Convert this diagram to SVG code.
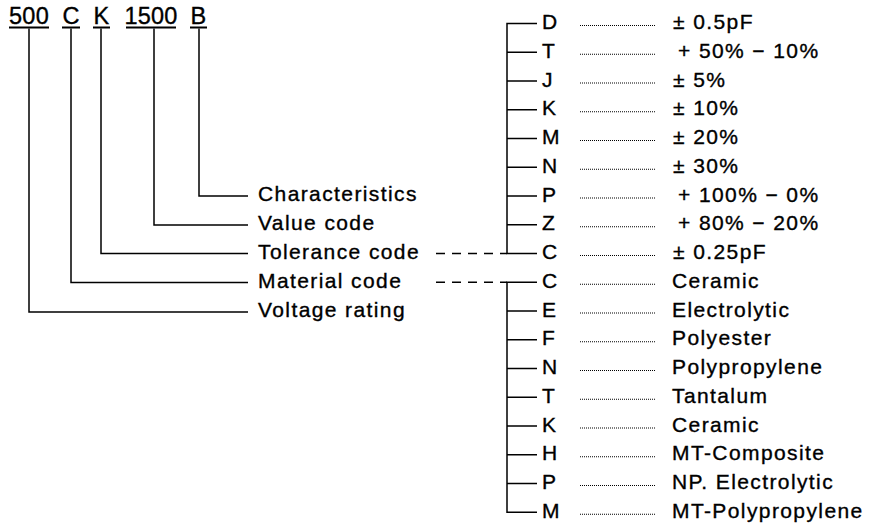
<svg xmlns="http://www.w3.org/2000/svg" width="879" height="528" viewBox="0 0 879 528">
<style>
  text { font-family: "Liberation Sans", Arial, Helvetica, sans-serif; fill: #000; stroke: #000; stroke-width: 0.35; }
  .code { font-size: 23.5px; letter-spacing: 0.2px; text-anchor: middle; }
  .t { font-size: 21px; letter-spacing: 1.4px; }
  .ln { fill: none; stroke: #000; stroke-width: 1.5; }
  .ul { fill: none; stroke: #000; stroke-width: 2; }
  .dash { fill: none; stroke: #000; stroke-width: 1.6; stroke-dasharray: 9 7; }
  .dots { fill: none; stroke: #000; stroke-width: 1.1; stroke-dasharray: 1 1; }
</style>
<rect width="879" height="528" fill="#fff"/>

<g id="code">
  <text class="code" x="29" y="24">500</text>
  <text class="code" x="71" y="24">C</text>
  <text class="code" x="101.5" y="24">K</text>
  <text class="code" x="151" y="24">1500</text>
  <text class="code" x="198.5" y="24">B</text>
  <path class="ul" d="M9 27.5H49M62 27.5H80M93 27.5H110M126 27.5H176M190 27.5H207"/>
</g>

<g id="connectors">
  <path class="ln" d="M199 28.5V196H248"/>
  <path class="ln" d="M154 28.5V225H248"/>
  <path class="ln" d="M101 28.5V253.5H248"/>
  <path class="ln" d="M71 28.5V282.5H248"/>
  <path class="ln" d="M29 28.5V312H248"/>
  <path class="dash" d="M436 253.5H507"/>
  <path class="dash" d="M436 282.25H507"/>
  <path class="ln" d="M537 23.5H507V253.5H537"/>
  <path class="ln" d="M507 52.25H537M507 81H537M507 109.75H537M507 138.5H537M507 167.25H537M507 196H537M507 224.75H537"/>
  <path class="ln" d="M537 282.25H507V512.25H537"/>
  <path class="ln" d="M507 311H537M507 339.75H537M507 368.5H537M507 397.25H537M507 426H537M507 454.75H537M507 483.5H537"/>
  <path class="dots" d="M580 25.5H656M580 54.25H656M580 83H656M580 111.75H656M580 140.5H656M580 169.25H656M580 198H656M580 226.75H656M580 255.5H656M580 284.25H656M580 313H656M580 341.75H656M580 370.5H656M580 399.25H656M580 428H656M580 456.75H656M580 485.5H656M580 514.25H656"/>
</g>

<g id="characteristics"><text class="t" x="258" y="201">Characteristics</text></g>
<g id="value-code"><text class="t" x="258" y="230">Value code</text></g>
<g id="tolerance-code"><text class="t" x="258" y="258.5">Tolerance code</text></g>
<g id="material-code"><text class="t" x="258" y="287.5">Material code</text></g>
<g id="voltage-rating"><text class="t" x="258" y="317">Voltage rating</text></g>

<g id="tolerance-list">
  <text class="t" x="542" y="29">D</text><text class="t" x="673" y="29">± 0.5pF</text>
  <text class="t" x="542" y="57.75">T</text><text class="t" x="678" y="57.75">+ 50% − 10%</text>
  <text class="t" x="542" y="86.5">J</text><text class="t" x="673" y="86.5">± 5%</text>
  <text class="t" x="542" y="115.25">K</text><text class="t" x="673" y="115.25">± 10%</text>
  <text class="t" x="542" y="144">M</text><text class="t" x="673" y="144">± 20%</text>
  <text class="t" x="542" y="172.75">N</text><text class="t" x="673" y="172.75">± 30%</text>
  <text class="t" x="542" y="201.5">P</text><text class="t" x="678" y="201.5">+ 100% − 0%</text>
  <text class="t" x="542" y="230.25">Z</text><text class="t" x="678" y="230.25">+ 80% − 20%</text>
  <text class="t" x="542" y="259">C</text><text class="t" x="673" y="259">± 0.25pF</text>
</g>

<g id="material-list">
  <text class="t" x="542" y="287.75">C</text><text class="t" x="672" y="287.75">Ceramic</text>
  <text class="t" x="542" y="316.5">E</text><text class="t" x="672" y="316.5">Electrolytic</text>
  <text class="t" x="542" y="345.25">F</text><text class="t" x="672" y="345.25">Polyester</text>
  <text class="t" x="542" y="374">N</text><text class="t" x="672" y="374">Polypropylene</text>
  <text class="t" x="542" y="402.75">T</text><text class="t" x="672" y="402.75">Tantalum</text>
  <text class="t" x="542" y="431.5">K</text><text class="t" x="672" y="431.5">Ceramic</text>
  <text class="t" x="542" y="460.25">H</text><text class="t" x="672" y="460.25">MT-Composite</text>
  <text class="t" x="542" y="489">P</text><text class="t" x="672" y="489">NP. Electrolytic</text>
  <text class="t" x="542" y="517.75">M</text><text class="t" x="672" y="517.75">MT-Polypropylene</text>
</g>
</svg>
